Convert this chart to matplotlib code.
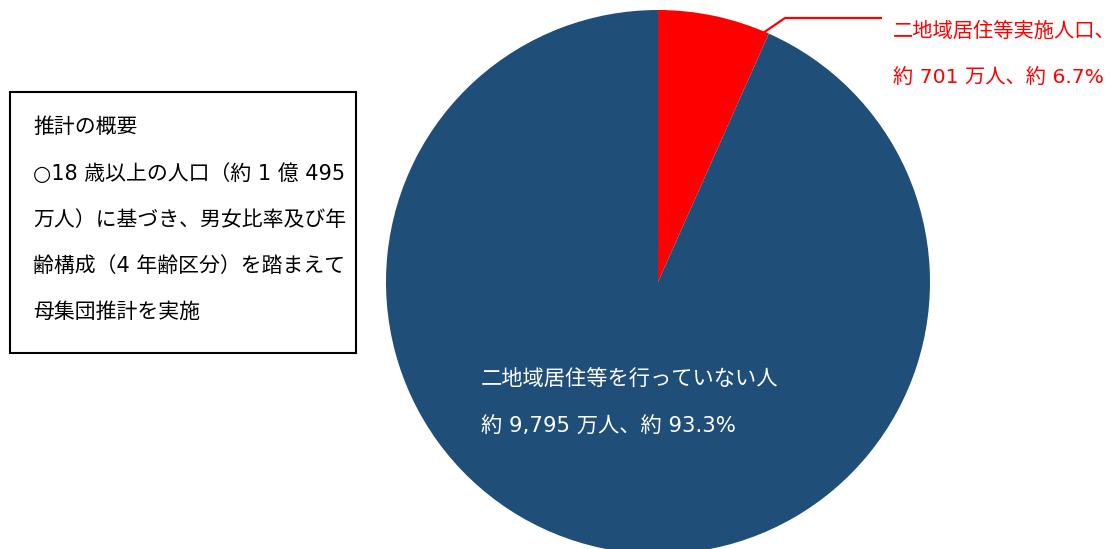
import numpy as np
import matplotlib.pyplot as plt
from matplotlib.patches import Rectangle

# 英数字は DejaVu Sans（Verdana 風）、日本語は Noto Sans CJK JP
plt.rcParams['font.family'] = ['DejaVu Sans', 'Noto Sans CJK JP']

# データ
categories = ['二地域居住等実施人口', '二地域居住等を行っていない人']
values = [701, 9795]  # 万人
colors = ['#FF0000', '#1F4E79']

W, H = 1116, 549
fig = plt.figure(figsize=(W / 100, H / 100), dpi=100)
ax = fig.add_axes([0, 0, 1, 1])

ax.pie(values, colors=colors, startangle=90, counterclock=False,
       center=(658, H - 282), radius=272, frame=True,
       wedgeprops=dict(linewidth=0))
ax.set_xlim(0, W)
ax.set_ylim(0, H)
ax.set_aspect('equal')
ax.axis('off')

total = sum(values)
pct = [v / total * 100 for v in values]

# 引き出し線とラベル（実施人口）
ax.plot([763, 785, 882], [H - 33, H - 18, H - 18], color='#FF0000', lw=1.6,
        solid_capstyle='butt')
ax.text(893, H - 31, f'{categories[0]}、', color='#FF0000', fontsize=14.6,
        va='center', ha='left')
ax.text(893, H - 77, f'約 {values[0]} 万人、約 {pct[0]:.1f}%', color='#FF0000',
        fontsize=14.6, va='center', ha='left')

# 円内ラベル
ax.text(481, H - 380, categories[1], color='white', fontsize=15.3,
        va='center', ha='left')
ax.text(481, H - 427, f'約 {values[1]:,} 万人、約 {pct[1]:.1f}%', color='white',
        fontsize=15.3, va='center', ha='left')

# 推計の概要ボックス
ax.add_patch(Rectangle((10, H - 353), 346, 261, facecolor='white',
                       edgecolor='black', lw=1.5))
box_lines = ['推計の概要',
             '○18 歳以上の人口（約 1 億 495',
             '万人）に基づき、男女比率及び年',
             '齢構成（4 年齢区分）を踏まえて',
             '母集団推計を実施']
for i, line in enumerate(box_lines):
    ax.text(33, H - (127 + i * 46.3), line, color='black', fontsize=15,
            va='center', ha='left')

plt.savefig('out.png', dpi=100)
